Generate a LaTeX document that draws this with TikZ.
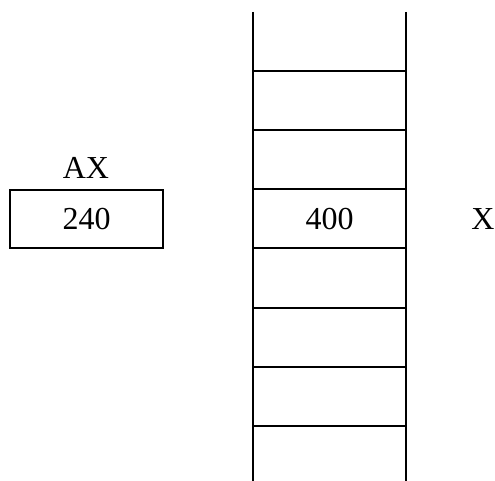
\documentclass[tikz,border=0pt]{standalone}
\usepackage{fontspec}
\setmainfont{Liberation Serif}
\begin{document}
\begin{tikzpicture}[x=1pt,y=-1pt,
  lbl/.style={font=\fontsize{32}{38}\selectfont, inner sep=0pt},
  regbox/.style={draw, line width=2pt, minimum width=153pt, minimum height=58pt, inner sep=0pt, font=\fontsize{32}{38}\selectfont},
  memline/.style={line width=2.5pt}]
\useasboundingbox (0,0) rectangle (495,481);
% register AX
\node[regbox] (ax) at (86.5,219) {240};
\node[lbl] (axlabel) at (86,168) {AX};
% memory column
\coordinate (tl) at (253,12);
\coordinate (bl) at (253,481);
\coordinate (tr) at (406,12);
\coordinate (br) at (406,481);
\draw[memline] (tl) -- (bl);
\draw[memline] (tr) -- (br);
\foreach \yy in {71,130,189,248,308,367,426} {
  \draw[memline] (253,\yy) -- (406,\yy);
}
\node[lbl] (mem) at (329.5,219) {400};
\node[lbl] (xlabel) at (483,219) {X};
\end{tikzpicture}
\end{document}
